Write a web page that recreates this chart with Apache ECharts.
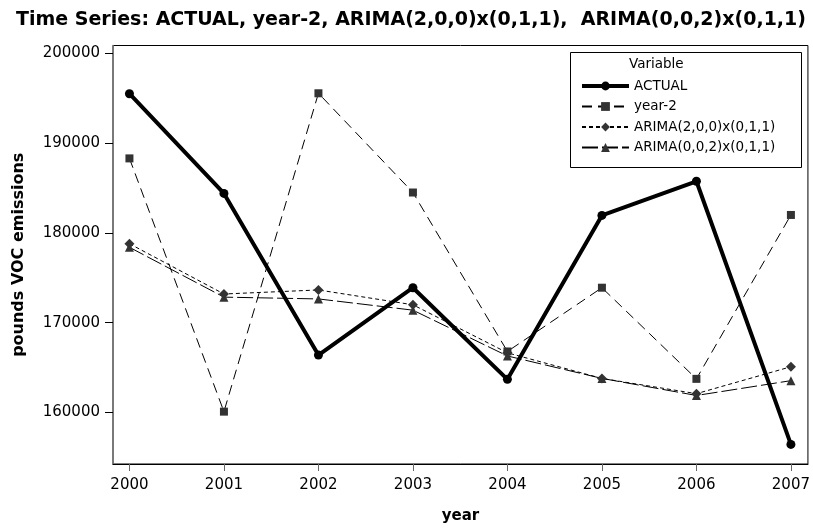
<!DOCTYPE html>
<html><head><meta charset="utf-8">
<script src="https://cdn.jsdelivr.net/npm/echarts@6/dist/echarts.min.js"></script>
<style>html,body{margin:0;padding:0;background:#fff}#c{width:813px;height:529px}</style>
</head><body><div id="c"></div>
<script>
const years = [2000, 2001, 2002, 2003, 2004, 2005, 2006, 2007];
const actual = [195500, 184400, 166400, 173900, 163700, 181950, 185750, 156450];
const year2 = [188300, 160100, 195550, 184500, 166800, 173900, 163750, 182000];
const arima200 = [178800, 173200, 173650, 172000, 166650, 163800, 162100, 165100];
const arima002 = [178400, 172850, 172650, 171400, 166300, 163800, 161900, 163550];
const yTicks = [160000, 170000, 180000, 190000, 200000];

const FONT = 'DejaVu Sans';
const pair = a => years.map((y, i) => [y, a[i]]);
const chart = echarts.init(document.getElementById('c'));
chart.setOption({
  animation: false,
  title: {
    text: 'Time Series: ACTUAL, year-2, ARIMA(2,0,0)x(0,1,1),  ARIMA(0,0,2)x(0,1,1)',
    left: 11, top: 6,
    textStyle: {fontFamily: FONT, fontWeight: 'bold', fontSize: 19, color: '#000'}
  },
  grid: {left: 113, right: 1.5, top: 45.5, bottom: 57.5, show: true, borderColor: '#000', borderWidth: 1},
  xAxis: {
    type: 'value', min: 1999.826, max: 2007.18,
    name: 'year', nameLocation: 'middle', nameGap: 45,
    nameTextStyle: {fontFamily: FONT, fontWeight: 'bold', fontSize: 15, color: '#000'},
    axisLine: {lineStyle: {color: '#000', width: 1.2}},
    axisTick: {show: true, length: 7, customValues: years, lineStyle: {color: '#666'}},
    axisLabel: {customValues: years, margin: 14, fontFamily: FONT, fontSize: 15, color: '#000', formatter: v => String(v)},
    splitLine: {show: false}
  },
  yAxis: {
    type: 'value', min: 154270, max: 200870,
    name: 'pounds VOC emissions', nameLocation: 'middle', nameGap: 86, nameRotate: 90,
    nameTextStyle: {fontFamily: FONT, fontWeight: 'bold', fontSize: 16, color: '#000'},
    axisLine: {show: true, lineStyle: {color: '#777', width: 1.5}},
    axisTick: {show: true, length: 8, customValues: yTicks, lineStyle: {color: '#000'}},
    axisLabel: {customValues: yTicks, margin: 13, fontFamily: FONT, fontSize: 15, color: '#000', formatter: v => String(v)},
    splitLine: {show: false}
  },
  legend: {
    orient: 'vertical', left: 575, top: 74, itemWidth: 47, itemHeight: 11, itemGap: 6.5,
    textStyle: {fontFamily: FONT, fontSize: 13.5, color: '#000'},
    data: [
      {name: 'ACTUAL', lineStyle: {width: 4}},
      {name: 'year-2'},
      {name: 'ARIMA(2,0,0)x(0,1,1)'},
      {name: 'ARIMA(0,0,2)x(0,1,1)'}
    ]
  },
  graphic: [
    {type: 'rect', left: 570, top: 52, shape: {width: 231, height: 115}, style: {fill: '#fff', stroke: '#000', lineWidth: 1}, z: 0},
    {type: 'text', left: 629, top: 57, style: {text: 'Variable', font: '13.5px "DejaVu Sans"', fill: '#000'}, z: 10}
  ],
  series: [
    {name: 'ACTUAL', type: 'line', data: pair(actual), symbol: 'circle', symbolSize: 9, z: 5,
     lineStyle: {color: '#000', width: 4}, itemStyle: {color: '#000'}},
    {name: 'year-2', type: 'line', data: pair(year2), symbol: 'rect', symbolSize: 8,
     lineStyle: {color: '#000', width: 1, type: [10, 6]}, itemStyle: {color: '#333'}},
    {name: 'ARIMA(2,0,0)x(0,1,1)', type: 'line', data: pair(arima200), symbol: 'diamond', symbolSize: 10,
     lineStyle: {color: '#000', width: 1, type: [4, 3]}, itemStyle: {color: '#333'}},
    {name: 'ARIMA(0,0,2)x(0,1,1)', type: 'line', data: pair(arima002), symbol: 'triangle', symbolSize: 9,
     lineStyle: {color: '#000', width: 1, type: [16, 4]}, itemStyle: {color: '#333'}}
  ]
});
</script></body></html>
